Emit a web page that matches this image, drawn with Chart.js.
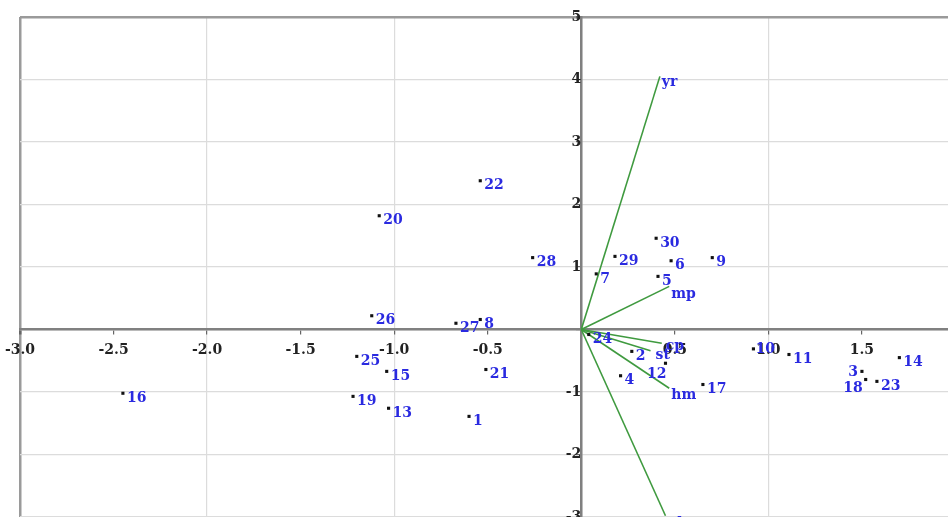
<!DOCTYPE html>
<html>
<head>
<meta charset="utf-8">
<script src="https://cdn.jsdelivr.net/npm/chart.js@4.4.1/dist/chart.umd.min.js"></script>
<style>
    body { margin: 0; background: #fff; }
    #biplot { display: block; }
</style>
</head>
<body>
<canvas id="biplot" width="948" height="517"></canvas>
<script>
// observation scores
const OBS_LABELS = ['1', '2', '3', '4', '5', '6', '7', '8', '9', '10',
    '11', '12', '13', '14', '15', '16', '17', '18', '19', '20',
    '21', '22', '23', '24', '25', '26', '27', '28', '29', '30'];
const OBS_X = [-0.60, 0.27, 1.50, 0.21, 0.41, 0.48, 0.08, -0.54, 0.70, 0.92,
    1.11, 0.45, -1.03, 1.70, -1.04, -2.45, 0.65, 1.52, -1.22, -1.08,
    -0.51, -0.54, 1.58, 0.04, -1.20, -1.12, -0.67, -0.26, 0.18, 0.40];
const OBS_Y = [-1.39, -0.35, -0.67, -0.74, 0.85, 1.10, 0.89, 0.16, 1.15, -0.31,
    -0.40, -0.54, -1.26, -0.45, -0.67, -1.02, -0.88, -0.80, -1.07, 1.82,
    -0.64, 2.38, -0.83, -0.08, -0.43, 0.22, 0.10, 1.15, 1.17, 1.46];

// variable loadings (arrows from origin)
const VAR_LABELS = ['yr', 'mp', 'cp', 'st', 'hm', 'ph'];
const VAR_X = [0.42, 0.47, 0.43, 0.37, 0.47, 0.45];
const VAR_Y = [4.05, 0.69, -0.22, -0.34, -0.94, -2.98];

// axis ranges / ticks
const X_RANGE = [-3, 1.96];
const Y_RANGE = [-3, 5];
const X_STEP = 0.5;
const Y_STEP = 1;

const LABEL_FONT = 'bold 14px "DejaVu Serif"';
const LABEL_COLOR = '#2a2ae0';
const ARROW_COLOR = '#3f9a3f';

// label nudges in px: [dx, dy, align]
const OBS_NUDGE = {
    '3': [-4, 1, 'right'],
    '12': [1, 11, 'right'],
    '18': [-3, 9, 'right'],
    '10': [2, 0, 'left']
};
const VAR_NUDGE = {
    'yr': [2, 6], 'mp': [2, 8], 'cp': [4, 3], 'st': [5, 5], 'hm': [2, 7], 'ph': [2, 8]
};

/** labelPlugin: writes point and arrow labels through the scales */
const labelPlugin = {
    id: 'labels',
    afterDatasetsDraw(chart) {
        const ctx = chart.ctx;
        const xs = chart.scales.x;
        const ys = chart.scales.y;
        ctx.save();
        ctx.font = LABEL_FONT;
        ctx.fillStyle = LABEL_COLOR;
        ctx.textBaseline = 'middle';

        OBS_LABELS.forEach((lab, i) => {
            const n = OBS_NUDGE[lab] || [4, 5, 'left'];
            ctx.textAlign = n[2];
            ctx.fillText(lab, xs.getPixelForValue(OBS_X[i]) + n[0], ys.getPixelForValue(OBS_Y[i]) + n[1]);
        });

        VAR_LABELS.forEach((lab, i) => {
            const n = VAR_NUDGE[lab] || [2, 6];
            ctx.textAlign = 'left';
            ctx.fillText(lab, xs.getPixelForValue(VAR_X[i]) + n[0], ys.getPixelForValue(VAR_Y[i]) + n[1]);
        });
        ctx.restore();
    }
};

function buildDatasets() {
    const sets = [{
        label: 'scores',
        data: OBS_X.map((x, i) => ({ x: x, y: OBS_Y[i] })),
        pointStyle: 'rect',
        pointRadius: 2.2,
        backgroundColor: '#111',
        borderColor: '#111',
        borderWidth: 0,
        order: 1
    }];
    VAR_LABELS.forEach((lab, i) => {
        sets.push({
            label: lab,
            data: [{ x: 0, y: 0 }, { x: VAR_X[i], y: VAR_Y[i] }],
            showLine: true,
            borderColor: ARROW_COLOR,
            borderWidth: 1.6,
            pointRadius: 0,
            order: 2
        });
    });
    return sets;
}

// drop the label overflow padding so the plot runs to the canvas edges
function noPadding(scale) {
    scale.paddingLeft = 0;
    scale.paddingRight = 0;
    scale.paddingTop = 0;
    scale.paddingBottom = 0;
}

const tickFont = { family: '"DejaVu Serif"', size: 14, weight: 'bold' };

new Chart(document.getElementById('biplot'), {
    type: 'scatter',
    data: { datasets: buildDatasets() },
    options: {
        responsive: false,
        animation: false,
        layout: { autoPadding: false, padding: { left: 20, top: 17, right: 0, bottom: 0 } },
        plugins: {
            legend: { display: false },
            tooltip: { enabled: false }
        },
        scales: {
            x: {
                type: 'linear',
                min: X_RANGE[0],
                max: X_RANGE[1],
                position: { y: 0 },
                afterFit: noPadding,
                afterBuildTicks: (scale) => {
                    const t = [];
                    for (let v = X_RANGE[0]; v <= X_RANGE[1] + 1e-9; v += X_STEP) t.push({ value: Math.round(v * 10) / 10 });
                    scale.ticks = t;
                },
                ticks: {
                    font: tickFont,
                    color: '#222',
                    padding: 8,
                    maxRotation: 0,
                    autoSkip: false,
                    callback: (v) => v === 0 ? '' : v.toFixed(1)
                },
                grid: {
                    color: (c) => {
                        const v = c.tick ? c.tick.value : 0;
                        if (v === X_RANGE[0]) return '#9a9a9a';
                        return Number.isInteger(v) ? '#dcdcdc' : 'rgba(0,0,0,0)';
                    },
                    lineWidth: (c) => (c.tick && c.tick.value === X_RANGE[0]) ? 2.5 : 1.2,
                    tickColor: '#666',
                    tickLength: 4
                },
                border: { display: true, color: '#808080', width: 2.5 }
            },
            y: {
                type: 'linear',
                min: Y_RANGE[0],
                max: Y_RANGE[1],
                position: { x: 0 },
                afterFit: noPadding,
                ticks: {
                    stepSize: Y_STEP,
                    font: tickFont,
                    color: '#222',
                    padding: 1,
                    callback: (v) => v === 0 ? '' : String(v)
                },
                grid: {
                    color: (c) => (c.tick && c.tick.value === Y_RANGE[1]) ? '#9a9a9a' : '#dcdcdc',
                    lineWidth: (c) => (c.tick && c.tick.value === Y_RANGE[1]) ? 2.5 : 1.2,
                    tickColor: '#666',
                    tickLength: 4
                },
                border: { display: true, color: '#808080', width: 2.5 }
            }
        }
    },
    plugins: [labelPlugin]
});
</script>
</body>
</html>
